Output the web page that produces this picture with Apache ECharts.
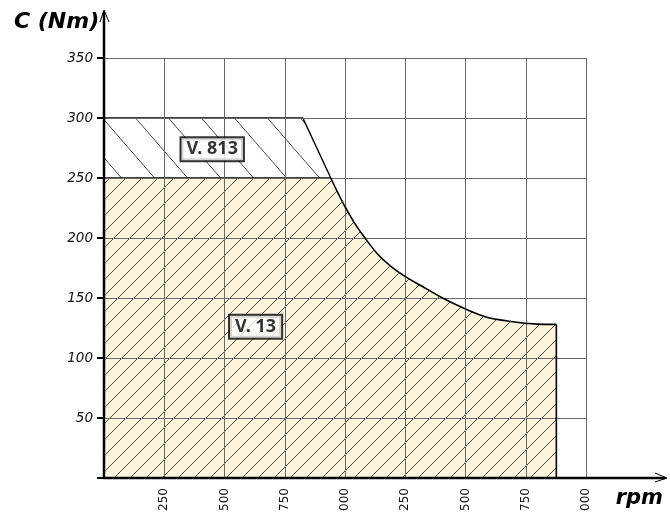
<!DOCTYPE html>
<html>
<head>
<meta charset="utf-8">
<script src="https://cdn.jsdelivr.net/npm/echarts@6/dist/echarts.min.js"></script>
<style>
  html, body { margin: 0; padding: 0; background: #fff; }
  #chart { width: 670px; height: 517px; }
</style>
</head>
<body>
<div id="chart"></div>
<script>
const xTickLabels = ['250', '500', '750', '000', '250', '500', '750', '000'];
const yTickLabels = ['50', '100', '150', '200', '250', '300', '350'];

// V.13 envelope: torque (Nm) against speed (rpm)
const v13Rpm = [0, 941, 972, 1003, 1041, 1083, 1138, 1193, 1249, 1318, 1405, 1498, 1588, 1670, 1747, 1830, 1877, 1877];
const v13Torque = [250, 250, 237, 225, 212, 200, 186, 176, 168, 160, 150, 141, 134, 131, 129, 128, 128, 0];

// V.813 band above it
const v813Rpm = [0, 825, 941, 0];
const v813Torque = [300, 300, 250, 250];

const labelNames = ['V. 813', 'V. 13'];
const labelRpm = [449, 629];
const labelTorque = [274, 126];

const FONT = 'DejaVu Sans';

// hatch tiles
function hatch(w, h, back, down) {
    const c = document.createElement('canvas');
    c.width = w;
    c.height = h;
    const g = c.getContext('2d');
    if (back) {
        g.fillStyle = back;
        g.fillRect(0, 0, w, h);
    }
    g.strokeStyle = '#333';
    g.lineWidth = 0.9;
    g.beginPath();
    for (const dx of [-w, 0, w]) {
        if (down) {
            g.moveTo(dx, 0);
            g.lineTo(dx + w, h);
        } else {
            g.moveTo(dx, h);
            g.lineTo(dx + w, 0);
        }
    }
    g.stroke();
    return { image: c, repeat: 'repeat' };
}

const v13Fill = hatch(16, 16, '#fcf5dc', false);
const v813Fill = hatch(33, 38, null, true);

const v13Points = v13Rpm.map((r, i) => [r, v13Torque[i]]);
// the curved part only (from the end of the flat top to the start of the drop)
const curvePoints = v13Points.slice(1, v13Points.length - 1);
const dropPoints = v13Points.slice(v13Points.length - 2);

const chart = echarts.init(document.getElementById('chart'));

const option = {
    animation: false,
    backgroundColor: '#fff',
    grid: { left: 104, right: 84, top: 58, bottom: 39 },
    title: [
        { text: 'C (Nm)', left: 9, top: 6,
          textStyle: { fontFamily: FONT, fontSize: 22, fontWeight: 'bold', fontStyle: 'italic', color: '#000' } },
        { text: 'rpm', right: 2, top: 483,
          textStyle: { fontFamily: FONT, fontSize: 21, fontWeight: 'bold', fontStyle: 'italic', color: '#000' } }
    ],
    xAxis: {
        type: 'value', min: 0, max: 2000, interval: 250, z: 3,
        axisLine: { show: false },
        axisTick: { show: false },
        axisLabel: {
            rotate: 90, margin: 10, fontFamily: FONT, fontSize: 12, color: '#111',
            formatter: v => v > 0 ? xTickLabels[v / 250 - 1] : ''
        },
        splitLine: { show: true, lineStyle: { color: '#6a6a6a', width: 1 } }
    },
    yAxis: {
        type: 'value', min: 0, max: 350, interval: 50, z: 3,
        axisLine: { show: false },
        axisTick: { show: true, length: 7, lineStyle: { color: '#000', width: 2 } },
        axisLabel: {
            margin: 11, fontFamily: FONT, fontSize: 13.5, fontStyle: 'italic', color: '#111',
            formatter: v => v > 0 ? yTickLabels[v / 50 - 1] : ''
        },
        splitLine: { show: true, lineStyle: { color: '#6a6a6a', width: 1 } }
    },
    series: [
        {
            name: 'V. 13', type: 'line', z: 1, symbol: 'none',
            data: v13Points,
            lineStyle: { width: 0, opacity: 0 },
            areaStyle: { color: v13Fill, opacity: 1 }
        },
        {
            name: 'V. 13 edge', type: 'line', z: 4, symbol: 'none', smooth: 0.45,
            data: curvePoints,
            lineStyle: { color: '#000', width: 1.6 }
        },
        {
            name: 'V. 13 drop', type: 'line', z: 4, symbol: 'none',
            data: dropPoints,
            lineStyle: { color: '#000', width: 1.6 }
        },
        {
            name: 'V. 813', type: 'custom', z: 2,
            data: [[0, 0]],
            renderItem: (params, api) => ({
                type: 'polygon',
                shape: { points: v813Rpm.map((r, i) => api.coord([r, v813Torque[i]])) },
                style: { fill: v813Fill, stroke: '#000', lineWidth: 1.4 }
            })
        },
        {
            type: 'scatter', z: 5, symbolSize: 1,
            itemStyle: { color: 'rgba(0,0,0,0)' },
            data: labelNames.map((n, i) => [labelRpm[i], labelTorque[i], n]),
            label: {
                show: true, position: 'inside',
                formatter: p => p.data[2],
                fontFamily: 'Noto Sans', fontSize: 18, fontWeight: 'bold', color: '#000',
                backgroundColor: '#fff', borderColor: '#000', borderWidth: 2,
                padding: [3, 5, 1, 5]
            }
        }
    ]
};

chart.setOption(option);

// axes with open arrows, running past the grid
const o = chart.convertToPixel({ gridIndex: 0 }, [0, 0]);
const xTip = [667, o[1]];
const yTip = [o[0], 10];
const axisStyle = { stroke: '#000', lineWidth: 2.5, fill: null };
const arrowStyle = { stroke: '#000', lineWidth: 1, fill: null };
chart.setOption({
    graphic: [
        { type: 'polyline', z: 10, shape: { points: [[o[0], yTip[1] + 2], [o[0], o[1]], [xTip[0] - 2, o[1]]] }, style: axisStyle },
        { type: 'polyline', z: 10, shape: { points: [[xTip[0] - 12, o[1] - 5], xTip, [xTip[0] - 12, o[1] + 4]] }, style: arrowStyle },
        { type: 'polyline', z: 10, shape: { points: [[o[0] - 4, yTip[1] + 12], yTip, [o[0] + 5, yTip[1] + 12]] }, style: arrowStyle }
    ]
});

window.addEventListener('resize', () => chart.resize());
</script>
</body>
</html>
